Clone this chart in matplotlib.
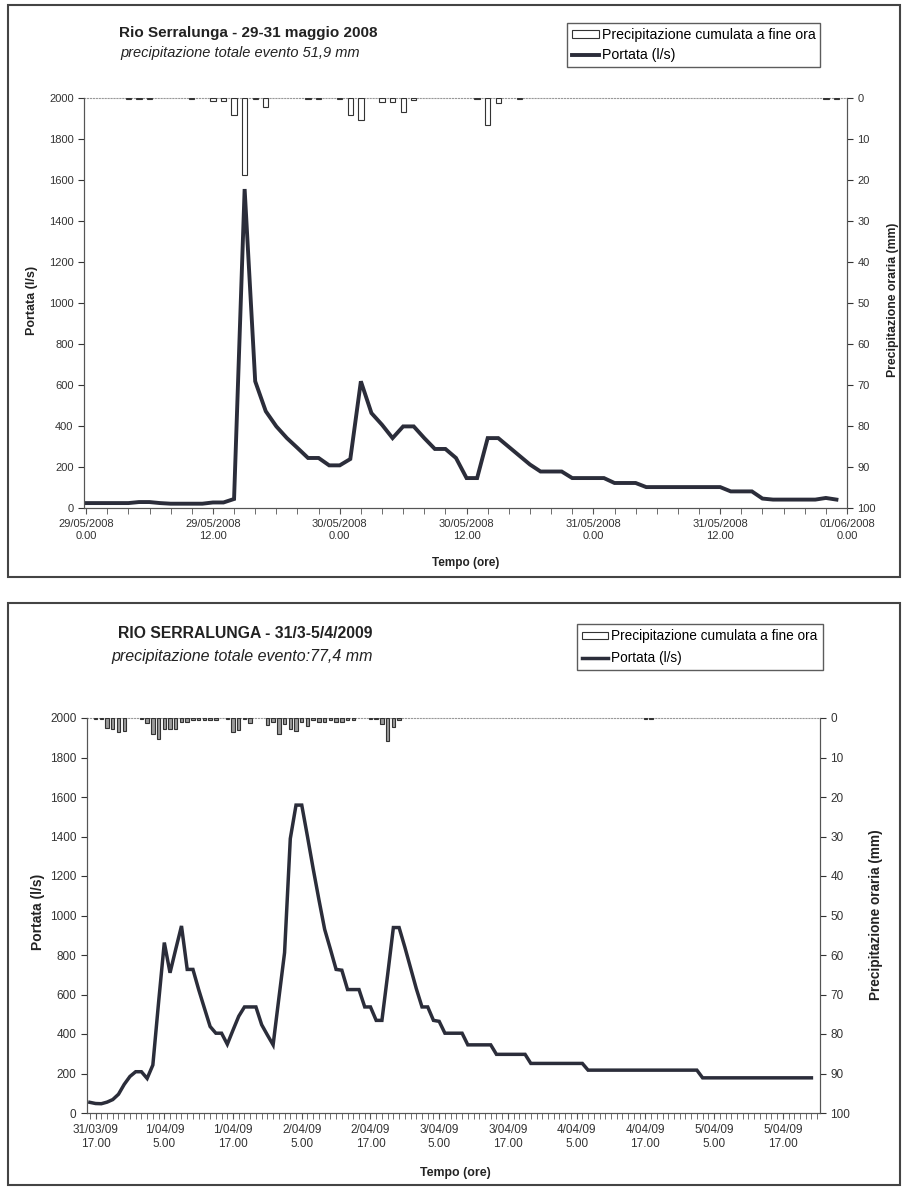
import matplotlib
matplotlib.use('Agg')
import matplotlib.pyplot as plt
from matplotlib.patches import Rectangle
from matplotlib.lines import Line2D
from matplotlib.ticker import MultipleLocator

plt.rcParams['font.family'] = ['Liberation Sans', 'DejaVu Sans']

# --- evento 29-31 maggio 2008 (ore da 29/05/2008 0.00) ---
flow_2008 = [24, 24, 24, 24, 24, 29, 29, 24, 21, 21,
             21, 21, 27, 27, 44, 1556, 618, 472, 398, 341,
             293, 244, 244, 208, 208, 239, 618, 463, 406, 341,
             398, 398, 341, 288, 288, 244, 146, 146, 341, 341,
             298, 255, 212, 178, 178, 178, 146, 146, 146, 146,
             122, 122, 122, 102, 102, 102, 102, 102, 102, 102,
             102, 81, 81, 81, 46, 41, 41, 41, 41, 41,
             49, 41]
rain_hours_2008 = [4, 5, 6, 10, 12, 13, 14, 15, 16, 17, 21, 22, 24, 25, 26,
                   28, 29, 30, 31, 37, 38, 39, 41, 70, 71]
rain_mm_2008 = [0.2, 0.2, 0.2, 0.2, 0.8, 0.8, 4.1, 18.9, 0.2, 2.2, 0.2, 0.2, 0.2, 4.2, 5.3,
                1.0, 1.0, 3.4, 0.6, 0.2, 6.7, 1.1, 0.2, 0.2, 0.2]
ticks_2008 = [0, 12, 24, 36, 48, 60, 72]
labels_2008 = ['29/05/2008\n0.00', '29/05/2008\n12.00', '30/05/2008\n0.00',
               '30/05/2008\n12.00', '31/05/2008\n0.00', '31/05/2008\n12.00',
               '01/06/2008\n0.00']

# --- evento 31/3-5/4/2009 (ore da 31/03/09 16.00) ---
flow_2009 = [54, 48, 47, 55, 68, 95, 145, 185, 209, 209,
             175, 243, 560, 863, 710, 830, 947, 727, 727, 625,
             531, 438, 404, 404, 348, 420, 490, 537, 537, 537,
             447, 395, 345, 580, 812, 1389, 1559, 1559, 1400, 1236,
             1080, 930, 830, 727, 723, 625, 625, 625, 537, 537,
             469, 469, 700, 939, 939, 840, 735, 630, 537, 537,
             469, 464, 404, 404, 404, 404, 345, 345, 345, 345,
             345, 297, 297, 297, 297, 297, 297, 251, 251, 251,
             251, 251, 251, 251, 251, 251, 251, 217, 217, 217,
             217, 217, 217, 217, 217, 217, 217, 217, 217, 217,
             217, 217, 217, 217, 217, 217, 217, 178, 178, 178,
             178, 178, 178, 178, 178, 178, 178, 178, 178, 178,
             178, 178, 178, 178, 178, 178, 178]
rain_hours_2009 = [1, 2, 3, 4, 5, 6, 9, 10, 11, 12, 13, 14, 15, 16, 17, 18, 19, 20, 21, 22,
                   24, 25, 26, 27, 28, 31, 32, 33, 34, 35, 36, 37, 38, 39, 40, 41, 42,
                   43, 44, 45, 46, 49, 50, 51, 52, 53, 54, 97, 98]
rain_mm_2009 = [0.2, 0.2, 2.6, 2.7, 3.6, 3.2, 0.2, 1.2, 4.0, 5.3, 2.9, 2.7, 2.9, 1.0, 1.0,
                0.4, 0.4, 0.4, 0.4, 0.4,
                0.2, 3.6, 3.0, 0.2, 1.2, 1.7, 1.0, 4.0, 1.5, 2.7, 3.2, 1.0, 2.0, 0.4,
                1.0, 1.0, 0.4, 1.0, 1.0, 0.4, 0.4, 0.2, 0.2, 1.5, 5.7, 2.3, 0.4, 0.2, 0.2]
ticks_2009 = [1, 13, 25, 37, 49, 61, 73, 85, 97, 109, 121]
labels_2009 = ['31/03/09\n17.00', '1/04/09\n5.00', '1/04/09\n17.00', '2/04/09\n5.00',
               '2/04/09\n17.00', '3/04/09\n5.00', '3/04/09\n17.00', '4/04/09\n5.00',
               '4/04/09\n17.00', '5/04/09\n5.00', '5/04/09\n17.00']

W, H = 907, 1189
LINE = '#2b2d3a'
EDGE = '#333333'


def fx(x):
    return x / W


def fy(y):
    return 1 - y / H


def draw_panel(fig, box, flow, rain_h, rain_mm, ticks, labels, xlim, minor,
               bar_face, bar_w, lw, fs):
    x0, y0, x1, y1 = box
    ax = fig.add_axes([fx(x0), fy(y1), (x1 - x0) / W, (y1 - y0) / H])
    ax.plot(range(len(flow)), flow, color=LINE, lw=lw, solid_joinstyle='miter')
    ax.set_xlim(*xlim)
    ax.set_ylim(0, 2000)
    ax.set_yticks(range(0, 2001, 200))
    ax.set_xticks(ticks)
    ax.set_xticklabels(labels, fontsize=fs, color='#333')
    ax.xaxis.set_minor_locator(MultipleLocator(minor))
    ax.tick_params(axis='y', labelsize=fs, colors='#333', direction='out', length=4)
    ax.tick_params(axis='x', which='both', direction='out', length=4, colors='#555')
    ax.tick_params(axis='x', labelcolor='#333', pad=4)
    ax.spines['top'].set_linestyle(':')
    ax.spines['top'].set_color('#999')
    for s in ['left', 'bottom', 'right']:
        ax.spines[s].set_color('#555')

    ax2 = ax.twinx()
    ax2.bar(rain_h, rain_mm, width=bar_w, facecolor=bar_face, edgecolor=EDGE, lw=0.8)
    ax2.set_ylim(100, 0)
    ax2.set_yticks(range(0, 101, 10))
    ax2.tick_params(axis='y', labelsize=fs, colors='#333', direction='out', length=4)
    ax2.spines['top'].set_visible(False)
    for s in ['left', 'bottom', 'right']:
        ax2.spines[s].set_color('#555')
    return ax, ax2


fig = plt.figure(figsize=(W / 100, H / 100), dpi=100)

# cornici dei due grafici
for top, bottom in [(5, 577), (603, 1185)]:
    fig.patches.append(Rectangle((fx(8), fy(bottom)), 892 / W, (bottom - top) / H,
                                 transform=fig.transFigure, fill=False,
                                 edgecolor='#444', lw=1.5))

leg_labels = ['Precipitazione cumulata a fine ora', 'Portata (l/s)']

# ---------- grafico 2008 ----------
ax, ax2 = draw_panel(fig, (84, 98, 847, 508), flow_2008, rain_hours_2008, rain_mm_2008,
                     ticks_2008, labels_2008, (-0.2, 72), 2, 'white', 0.5, 2.8, 8)
fig.text(fx(248), fy(33), 'Rio Serralunga - 29-31 maggio 2008', ha='center', va='center',
         fontsize=11, fontweight='bold', color='#222')
fig.text(fx(240), fy(53), 'precipitazione totale evento 51,9 mm', ha='center', va='center',
         fontsize=10.5, style='italic', color='#222')
fig.text(fx(32), fy(300), 'Portata (l/s)', rotation=90, ha='center', va='center',
         fontsize=9, fontweight='bold', color='#222')
fig.text(fx(893), fy(300), 'Precipitazione oraria (mm)', rotation=90, ha='center',
         va='center', fontsize=8.8, fontweight='bold', color='#222')
fig.text(fx(466), fy(563), 'Tempo (ore)', ha='center', va='center',
         fontsize=8.5, fontweight='bold', color='#222')

handles = [Rectangle((0, 0), 1, 1, facecolor='white', edgecolor=EDGE, lw=0.8),
           Line2D([], [], color=LINE, lw=2.8)]
fig.legend(handles, leg_labels, loc='upper left', bbox_to_anchor=(fx(567), fy(23)),
           bbox_transform=fig.transFigure, fontsize=10.2, frameon=True, fancybox=False,
           edgecolor='#333', borderaxespad=0, handlelength=1.9, handleheight=0.5,
           borderpad=0.35, labelspacing=0.45, handletextpad=0.2)

# ---------- grafico 2009 ----------
ax, ax2 = draw_panel(fig, (87, 718, 820, 1113), flow_2009, rain_hours_2009, rain_mm_2009,
                     ticks_2009, labels_2009, (-0.5, 127.5), 1, '#9a9a9a', 0.6, 2.5, 8.5)
fig.text(fx(245), fy(633), 'RIO SERRALUNGA - 31/3-5/4/2009', ha='center', va='center',
         fontsize=11.3, fontweight='bold', color='#222')
fig.text(fx(242), fy(657), 'precipitazione totale evento:77,4 mm', ha='center', va='center',
         fontsize=11.5, style='italic', color='#222')
fig.text(fx(38), fy(912), 'Portata (l/s)', rotation=90, ha='center', va='center',
         fontsize=10, fontweight='bold', color='#222')
fig.text(fx(876), fy(915), 'Precipitazione oraria (mm)', rotation=90, ha='center',
         va='center', fontsize=9.8, fontweight='bold', color='#222')
fig.text(fx(455), fy(1173), 'Tempo (ore)', ha='center', va='center',
         fontsize=8.9, fontweight='bold', color='#222')

handles = [Rectangle((0, 0), 1, 1, facecolor='white', edgecolor=EDGE, lw=0.8),
           Line2D([], [], color=LINE, lw=2.5)]
fig.legend(handles, leg_labels, loc='upper left', bbox_to_anchor=(fx(577), fy(624)),
           bbox_transform=fig.transFigure, fontsize=9.8, frameon=True, fancybox=False,
           edgecolor='#333', borderaxespad=0, handlelength=1.9, handleheight=0.5,
           borderpad=0.4, labelspacing=0.55, handletextpad=0.2)

fig.savefig('out.png', dpi=100)
